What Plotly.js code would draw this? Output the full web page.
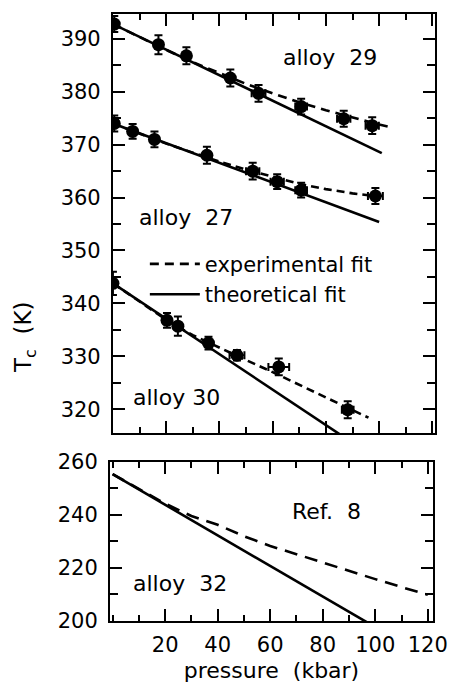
<!DOCTYPE html>
<html><head><meta charset="utf-8">
<script src="https://cdn.plot.ly/plotly-3.0.1.min.js"></script>
<style>html,body{margin:0;padding:0;background:#fff}</style>
</head><body>
<div id="chart" style="width:451px;height:683px"></div>
<script>
// measured points (pressure kbar, Tc K)
const p29 = [0.5, 17.1, 27.6, 44.1, 54.7, 70.7, 86.7, 97.4];
const t29 = [392.8, 388.9, 386.8, 382.6, 379.7, 377.2, 374.9, 373.6];
const ey29 = [1.5, 1.8, 1.6, 1.6, 1.6, 1.5, 1.5, 1.6];
const ex29 = [1, 1, 1, 1, 2.6, 2.2, 2.5, 2.5];

const p27 = [0.5, 7.4, 15.6, 35.3, 52.5, 61.7, 70.7, 98.6];
const t27 = [374.0, 372.5, 371.0, 368.0, 365.0, 363.0, 361.4, 360.3];
const ey27 = [1.5, 1.4, 1.5, 1.6, 1.6, 1.4, 1.4, 1.5];
const ex27 = [1, 1, 1, 1, 2.5, 2.5, 2.2, 2.8];

const p30 = [0, 20.3, 24.4, 35.9, 46.6, 62.3, 88.2];
const t30 = [343.8, 336.8, 335.7, 332.5, 330.2, 328.0, 319.9];
const ey30 = [2.2, 1.4, 1.8, 1.2, 1.0, 1.6, 1.6];
const ex30 = [1, 1, 1, 1, 2.8, 3.9, 2.2];

// experimental fits (dashed)
const pExp29 = [0, 10, 20, 30, 40, 50, 60, 70, 80, 90, 100, 105];
const tExp29 = [392.8, 390.3, 387.9, 385.6, 383.5, 381.5, 379.7, 378.0, 376.5, 375.1, 373.8, 373.2];
const pExp27 = [0, 10, 20, 30, 40, 50, 60, 70, 80, 90, 100];
const tExp27 = [374.0, 372.1, 370.2, 368.5, 366.8, 365.3, 363.9, 362.6, 361.6, 360.8, 360.2];
const pExp30 = [0, 10, 20, 30, 40, 50, 60, 70, 80, 90, 96];
const tExp30 = [343.8, 340.3, 336.9, 334.0, 331.6, 329.3, 327.0, 324.6, 322.2, 319.8, 318.4];
const pExp32 = [0, 10, 20, 30, 40, 50, 60, 70, 80, 90, 100, 110, 120];
const tExp32 = [255.4, 249.8, 244.3, 239.6, 236.3, 232.0, 228.3, 225.2, 222.0, 218.9, 215.8, 212.8, 209.9];

// theoretical fits (solid)
const pTh29 = [0, 101];
const tTh29 = [392.8, 368.4];
const pTh27 = [0, 100];
const tTh27 = [374.0, 355.4];
const pTh30 = [0, 100];
const tTh30 = [343.8, 310.3];
const pTh32 = [0, 100];
const tTh32 = [255.4, 197.7];

const xTickVals = [20, 40, 60, 80, 100, 120];
const xTickText = ['20', '40', '60', '80', '100', '120'];
const yTopTicks = [320, 330, 340, 350, 360, 370, 380, 390];
const yBotTicks = [200, 220, 240, 260];

const F = 'DejaVu Sans, sans-serif';
const dashTop = '8px,5px';
const dashBot = '13px,8px';

function line(x, y, dash, xa, ya, extra) {
  return Object.assign({x: x, y: y, mode: 'lines', type: 'scatter', xaxis: xa, yaxis: ya,
    line: {color: 'black', width: 2.6, dash: dash}, showlegend: false, hoverinfo: 'skip'}, extra || {});
}
function pts(x, y, ex, ey) {
  return {x: x, y: y, mode: 'markers', type: 'scatter', xaxis: 'x', yaxis: 'y', showlegend: false,
    marker: {color: 'black', size: 13, symbol: 'circle'},
    error_y: {type: 'data', array: ey, visible: true, color: 'black', thickness: 2, width: 4},
    error_x: {type: 'data', array: ex, visible: true, color: 'black', thickness: 2, width: 4}};
}

const traces = [
  line(pExp29, tExp29, dashTop, 'x', 'y', {showlegend: true, name: 'experimental fit', legendgroup: 'a', line: {color: 'black', width: 2.6, dash: '9px,6px'}}),
  line(pTh29, tTh29, 'solid', 'x', 'y', {showlegend: true, name: 'theoretical fit', legendgroup: 'b'}),
  line(pExp27, tExp27, dashTop, 'x', 'y'),
  line(pTh27, tTh27, 'solid', 'x', 'y'),
  line(pExp30, tExp30, dashTop, 'x', 'y'),
  line(pTh30, tTh30, 'solid', 'x', 'y'),
  line(pExp32, tExp32, dashBot, 'x2', 'y2'),
  line(pTh32, tTh32, 'solid', 'x2', 'y2'),
  pts(p29, t29, ex29, ey29),
  pts(p27, t27, ex27, ey27),
  pts(p30, t30, ex30, ey30)
];

const axBase = {showgrid: false, zeroline: false, showline: true, linecolor: 'black', linewidth: 2,
  mirror: 'allticks', ticks: 'inside', tickcolor: 'black', tickwidth: 2,
  tickfont: {family: F, size: 21, color: 'black'}};

const layout = {
  width: 451, height: 683,
  margin: {l: 108, r: 14, t: 14, b: 62},
  paper_bgcolor: 'white', plot_bgcolor: 'white',
  font: {family: F, color: 'black'},
  showlegend: true,
  legend: {x: 0.112, y: 0.563, xanchor: 'left', yanchor: 'middle', bgcolor: 'rgba(0,0,0,0)',
    font: {family: F, size: 21, color: 'black'}, itemwidth: 50, tracegroupgap: 0, traceorder: 'grouped'},
  xaxis: Object.assign({}, axBase, {domain: [0.015, 0.994], range: [0, 121], anchor: 'y',
    tickvals: xTickVals, showticklabels: false, ticklen: 12,
    minor: {dtick: 10, tick0: 0, ticks: 'inside', ticklen: 6, tickcolor: 'black', tickwidth: 2}}),
  yaxis: Object.assign({}, axBase, {domain: [0.3097, 1], range: [315.5, 394.7], anchor: 'x',
    tickvals: yTopTicks, ticklen: 12, ticklabelstandoff: 6,
    minor: {dtick: 5, tick0: 0, ticks: 'inside', ticklen: 8, tickcolor: 'black', tickwidth: 2}}),
  xaxis2: Object.assign({}, axBase, {domain: [0.006, 0.988], range: [-1, 122], anchor: 'y2',
    tickvals: xTickVals, ticktext: xTickText, ticklen: 12, ticklabelstandoff: 4,
    minor: {dtick: 10, tick0: 0, ticks: 'inside', ticklen: 6, tickcolor: 'black', tickwidth: 2},
    title: {text: 'pressure\u00a0\u00a0(kbar)', font: {family: F, size: 22, color: 'black'}, standoff: 14}}),
  yaxis2: Object.assign({}, axBase, {domain: [0, 0.262], range: [200, 260], anchor: 'x2',
    tickvals: yBotTicks, ticklen: 12, ticklabelstandoff: 6,
    minor: {dtick: 10, tick0: 0, ticks: 'inside', ticklen: 8, tickcolor: 'black', tickwidth: 2}}),
  annotations: [
    {text: 'alloy\u00a0\u00a029', x: 81.7, y: 386.4, xref: 'x', yref: 'y', showarrow: false, font: {family: F, size: 22, color: 'black'}},
    {text: 'alloy\u00a0\u00a027', x: 27.6, y: 356.3, xref: 'x', yref: 'y', showarrow: false, font: {family: F, size: 22, color: 'black'}},
    {text: 'alloy 30', x: 23.8, y: 322.3, xref: 'x', yref: 'y', showarrow: false, font: {family: F, size: 22, color: 'black'}},
    {text: 'Ref.\u00a0\u00a08', x: 81.5, y: 241.4, xref: 'x2', yref: 'y2', showarrow: false, font: {family: F, size: 22, color: 'black'}},
    {text: 'alloy\u00a0\u00a032', x: 25.7, y: 214.0, xref: 'x2', yref: 'y2', showarrow: false, font: {family: F, size: 22, color: 'black'}},
    {text: 'T<sub>c</sub>\u00a0\u00a0(K)', x: -0.252, y: 0.468, xref: 'paper', yref: 'paper', xanchor: 'center', yanchor: 'middle',
      textangle: -90, showarrow: false, font: {family: F, size: 23, color: 'black'}}
  ]
};

Plotly.newPlot('chart', traces, layout, {displayModeBar: false, staticPlot: true});
</script>
</body></html>
